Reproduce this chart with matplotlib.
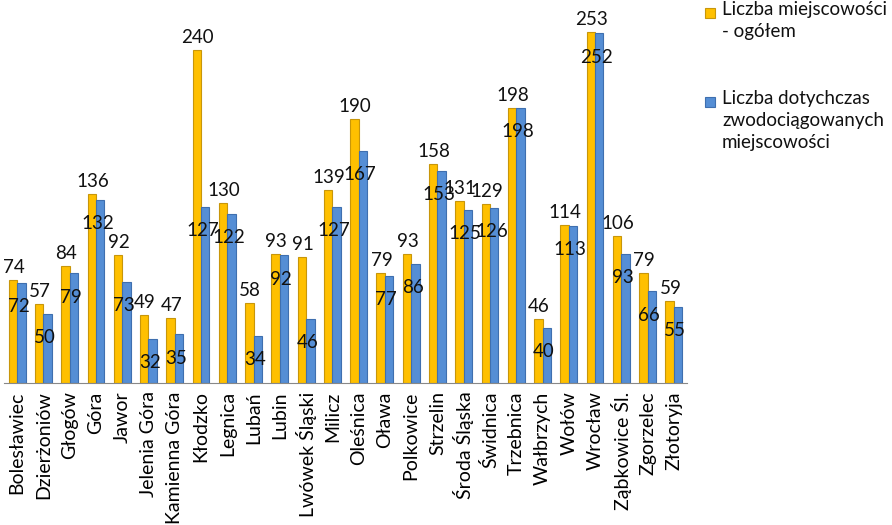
import numpy as np
import matplotlib
matplotlib.use("Agg")
import matplotlib.pyplot as plt
from matplotlib.patches import Rectangle

plt.rcParams["font.family"] = ["Lato", "DejaVu Sans"]

# --------------------------------------------------
# Data
# --------------------------------------------------
powiaty = [
    "Bolesławiec", "Dzierżoniów", "Głogów", "Góra", "Jawor",
    "Jelenia Góra", "Kamienna Góra", "Kłodzko", "Legnica", "Lubań",
    "Lubin", "Lwówek Śląski", "Milicz", "Oleśnica", "Oława",
    "Polkowice", "Strzelin", "Środa Śląska", "Świdnica", "Trzebnica",
    "Wałbrzych", "Wołów", "Wrocław", "Ząbkowice Śl.", "Zgorzelec",
    "Złotoryja",
]
ogolem = [74, 57, 84, 136, 92, 49, 47, 240, 130, 58, 93, 91, 139, 190,
          79, 93, 158, 131, 129, 198, 46, 114, 253, 106, 79, 59]
zwodociagowane = [72, 50, 79, 132, 73, 32, 35, 127, 122, 34, 92, 46, 127,
                  167, 77, 86, 153, 125, 126, 198, 40, 113, 252, 93, 66, 55]

label_ogolem = "Liczba miejscowości\n- ogółem"
label_zwod = "Liczba dotychczas\nzwodociągowanych\nmiejscowości"

ORANGE = "#FFC000"
BLUE = "#558ED5"
FS = 13.5

# --------------------------------------------------
# Plot
# --------------------------------------------------
fig = plt.figure(figsize=(8.92, 5.25), dpi=100)
ax = fig.add_axes([4 / 892, 142 / 525, 683 / 892, 374.5 / 525])

x = np.arange(len(powiaty))
w = 0.32

ax.bar(x - w / 2, ogolem, w, color=ORANGE, edgecolor="#C8960A", linewidth=0.8)
ax.bar(x + w / 2, zwodociagowane, w, color=BLUE, edgecolor="#3F6FAF", linewidth=0.8)

for xi, v in zip(x, ogolem):
    ax.annotate(str(v), (xi - w / 2, v), xytext=(0.5, 9),
                textcoords="offset points", ha="center", va="center",
                fontsize=FS, color="#111111")
for xi, v in zip(x, zwodociagowane):
    ax.annotate(str(v), (xi + w / 2, v), xytext=(-2, -17),
                textcoords="offset points", ha="center", va="center",
                fontsize=FS, color="#111111")

ax.set_xlim(-0.5, len(powiaty) - 0.5)
ax.set_ylim(0, 270)
ax.set_xticks(x)
ax.set_xticklabels(powiaty, rotation=90, fontsize=14)
ax.tick_params(axis="x", length=0, pad=6)
ax.set_yticks([])
for s in ["top", "right", "left"]:
    ax.spines[s].set_visible(False)
ax.spines["bottom"].set_color("#888888")

# legend (drawn by hand, marker aligned with first line)
fig.patches.append(Rectangle((705 / 892, 1 - 18 / 525), 10 / 892, 10 / 525,
                             transform=fig.transFigure, facecolor=ORANGE,
                             edgecolor="#C8960A", linewidth=0.8))
fig.patches.append(Rectangle((705 / 892, 1 - 107 / 525), 10 / 892, 10 / 525,
                             transform=fig.transFigure, facecolor=BLUE,
                             edgecolor="#3F6FAF", linewidth=0.8))
fig.text(722 / 892, 1 - 1 / 525, label_ogolem, ha="left", va="top",
         fontsize=FS, linespacing=1.35, color="#111111")
fig.text(722 / 892, 1 - 90 / 525, label_zwod, ha="left", va="top",
         fontsize=FS, linespacing=1.35, color="#111111")

fig.savefig("out.png", dpi=100)
